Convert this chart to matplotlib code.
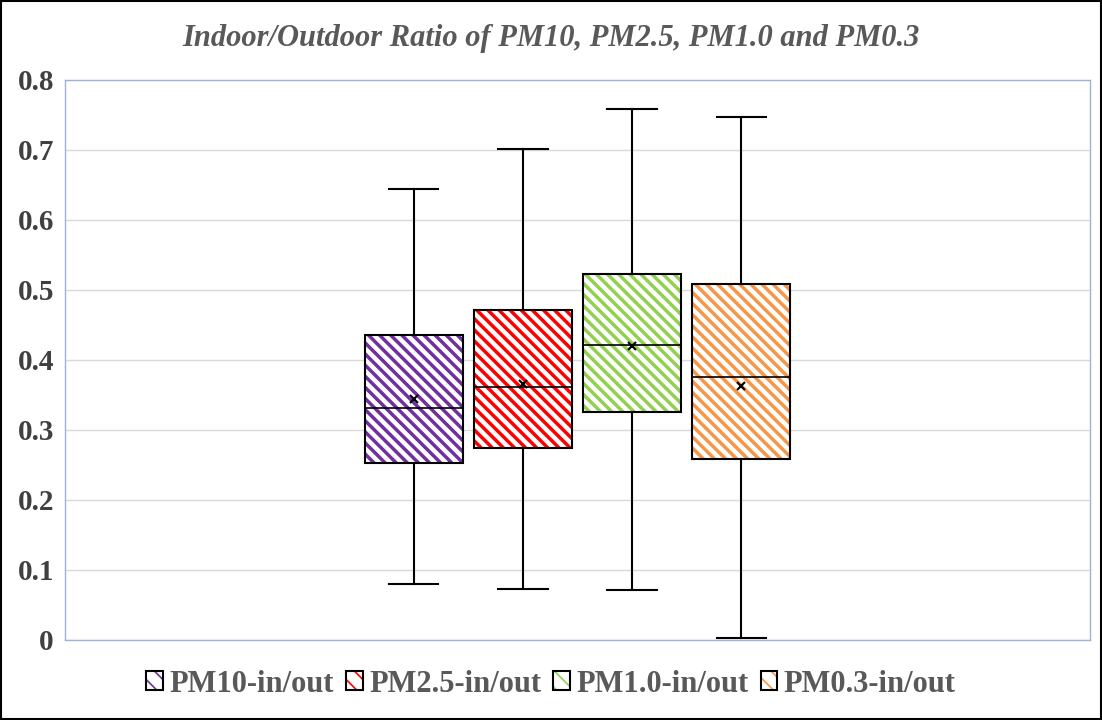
import matplotlib.pyplot as plt
from matplotlib.patches import Rectangle, Patch

labels = ['PM10-in/out', 'PM2.5-in/out', 'PM1.0-in/out', 'PM0.3-in/out']
whislo = [0.080, 0.073, 0.072, 0.003]
q1 = [0.253, 0.275, 0.326, 0.259]
med = [0.332, 0.362, 0.421, 0.376]
q3 = [0.436, 0.472, 0.523, 0.508]
whishi = [0.645, 0.702, 0.758, 0.747]
means = [0.345, 0.366, 0.420, 0.363]
colors = ['#7030A0', '#FF0000', '#92D050', '#F79646']

plt.rcParams['font.family'] = 'Liberation Serif'
plt.rcParams['hatch.linewidth'] = 2.5

fig = plt.figure(figsize=(11.02, 7.2), dpi=100)
ax = fig.add_axes([65/1102, 80/720, 1025/1102, 560/720])

stats = [dict(whislo=whislo[i], q1=q1[i], med=med[i], q3=q3[i], whishi=whishi[i],
              mean=means[i], fliers=[], label=labels[i]) for i in range(4)]
pos = [1, 2, 3, 4]
bp = ax.bxp(stats, positions=pos, widths=0.9, patch_artist=True, showmeans=True,
            meanprops=dict(marker='x', markeredgecolor='black', markersize=6, markeredgewidth=1.5),
            medianprops=dict(color='black', lw=1.2),
            whiskerprops=dict(color='black', lw=1.5),
            capprops=dict(color='black', lw=1.5),
            boxprops=dict(lw=0))
for b, c in zip(bp['boxes'], colors):
    b.set_facecolor('white')
    b.set_edgecolor(c)
    b.set_hatch('\\\\\\')
    b.set_linewidth(0)
for i in range(4):
    ax.add_patch(Rectangle((pos[i] - 0.45, q1[i]), 0.9, q3[i] - q1[i], fill=False,
                           edgecolor='black', lw=1.5, zorder=3))

ax.set_xlim(-2.2, 7.2)
ax.set_ylim(0, 0.8)
ax.set_yticks([0, 0.1, 0.2, 0.3, 0.4, 0.5, 0.6, 0.7, 0.8])
ax.set_yticklabels(['0', '0.1', '0.2', '0.3', '0.4', '0.5', '0.6', '0.7', '0.8'],
                   fontsize=21, fontweight='bold', color='#404040')
ax.set_xticks([])
ax.tick_params(axis='y', length=0, pad=8)
ax.grid(axis='y', color='#d9d9d9', lw=1)
ax.set_axisbelow(True)
for s in ax.spines.values():
    s.set_color('#9db3d9')
    s.set_linewidth(1)

fig.text(0.5, 0.947, 'Indoor/Outdoor Ratio of PM10, PM2.5, PM1.0 and PM0.3', ha='center',
         va='center', fontsize=22, fontweight='bold', style='italic', color='#595959')

plt.rcParams['hatch.linewidth'] = 1.2
handles = [(Patch(facecolor='white', edgecolor=c, hatch='\\\\', lw=0),
            Patch(facecolor='none', edgecolor='black', lw=1.5)) for c in colors]
leg = fig.legend(handles, labels, loc='center', bbox_to_anchor=(0.5, 0.05), ncol=4, frameon=False,
                 prop=dict(size=22, weight='bold'), handlelength=0.55, handleheight=0.55,
                 handletextpad=0.2, columnspacing=0.4)
for t in leg.get_texts():
    t.set_color('#595959')

fig.patches.append(Rectangle((0.001, 0.001), 0.998, 0.998, transform=fig.transFigure,
                             fill=False, edgecolor='black', lw=1.5))
fig.savefig('out.png')
